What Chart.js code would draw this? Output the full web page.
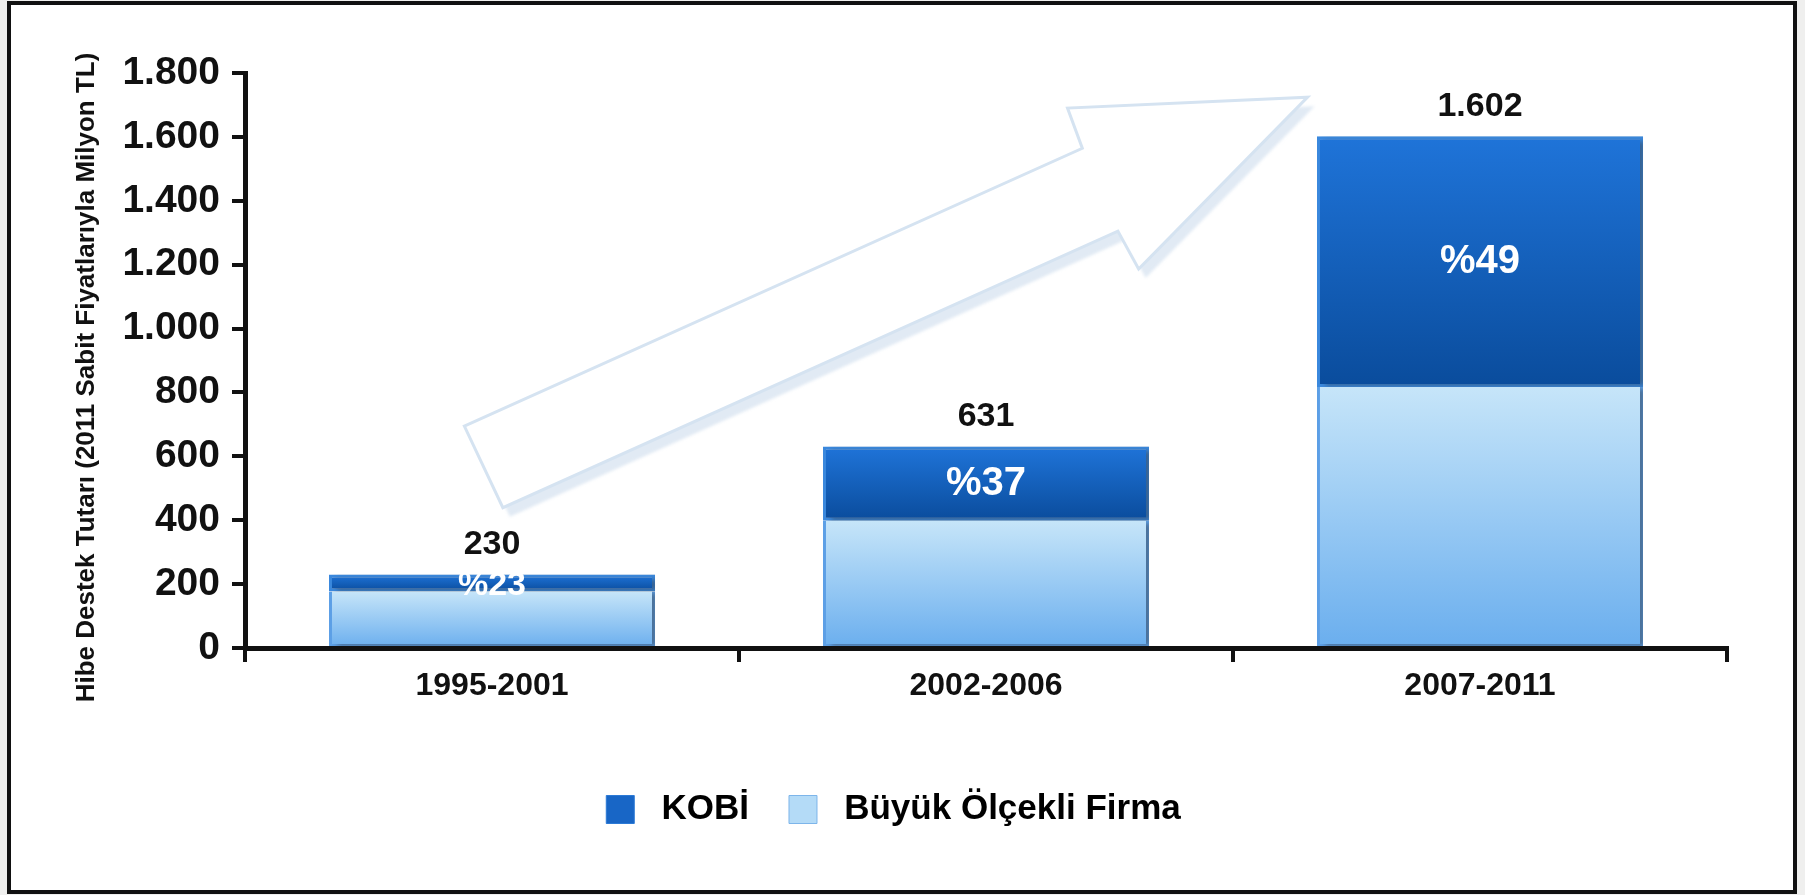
<!DOCTYPE html>
<html>
<head>
<meta charset="utf-8">
<script src="https://cdn.jsdelivr.net/npm/chart.js@4"></script>
<style>
html,body{margin:0;padding:0;background:#efefee;width:1805px;height:895px;overflow:hidden}
#frame{position:absolute;left:7px;top:1px;width:1782px;height:885px;border:4px solid #111;background:#fff}
#wrap{position:absolute;left:0;top:0;width:1805px;height:895px}
</style>
</head>
<body>
<div id="frame"></div>
<div id="wrap"><canvas id="c"></canvas></div>
<script>
// ---- data ----
const categories = ['1995-2001', '2002-2006', '2007-2011'];
const largeFirmValues = [177, 398, 817];   // Büyük Ölçekli Firma
const smeValues = [53, 233, 785];          // KOBİ
const totalLabels = ['230', '631', '1.602'];
const smeShareLabels = ['%23', '%37', '%49'];
const yTickLabels = ['0', '200', '400', '600', '800', '1.000', '1.200', '1.400', '1.600', '1.800'];
const seriesNames = ['Büyük Ölçekli Firma', 'KOBİ'];
const yAxisTitle = 'Hibe Destek Tutarı (2011 Sabit Fiyatlarıyla Milyon TL)';

const FONT = '"Liberation Sans", Arial, sans-serif';

function gradientFill(topColor, bottomColor, dsIndex) {
  return function (ctx) {
    const chart = ctx.chart;
    if (!chart.chartArea || ctx.type !== 'data') return bottomColor;
    const i = ctx.dataIndex;
    const y = chart.scales.y;
    const base = dsIndex === 0 ? 0 : largeFirmValues[i];
    const val = base + (dsIndex === 0 ? largeFirmValues[i] : smeValues[i]);
    const top = y.getPixelForValue(val), bot = y.getPixelForValue(base);
    const g = chart.ctx.createLinearGradient(0, top, 0, bot);
    g.addColorStop(0, topColor);
    g.addColorStop(1, bottomColor);
    return g;
  };
}

// decorative arrow (fractions of the chart area)
const arrowShape = [
  [0.148, 0.614], [0.565, 0.131], [0.555, 0.061], [0.717, 0.042],
  [0.603, 0.341], [0.589, 0.275], [0.174, 0.756]
];

const decorPlugin = {
  id: 'decor',
  beforeDatasetsDraw(chart) {
    const { ctx, chartArea: a } = chart;
    const w = a.right - a.left, h = a.bottom - a.top;
    const pts = arrowShape.map(p => [a.left + p[0] * w, a.top + p[1] * h]);
    const path = (dx, dy) => {
      ctx.beginPath();
      pts.forEach((p, k) => k ? ctx.lineTo(p[0] + dx, p[1] + dy) : ctx.moveTo(p[0] + dx, p[1] + dy));
      ctx.closePath();
    };
    ctx.save();
    ctx.filter = 'blur(1.5px)';
    path(7, 9);
    ctx.fillStyle = '#e1eaf4';
    ctx.fill();
    ctx.filter = 'none';
    path(0, 0);
    ctx.fillStyle = '#ffffff';
    ctx.fill();
    ctx.lineWidth = 3;
    ctx.strokeStyle = '#d5e3f1';
    ctx.stroke();
    ctx.restore();
    // bar shadow
    ctx.save();
    ctx.shadowColor = 'rgba(50,50,50,0.45)';
    ctx.shadowBlur = 5;
    ctx.shadowOffsetX = 5;
    ctx.shadowOffsetY = 2;
  },
  afterDatasetsDraw(chart) {
    const ctx = chart.ctx;
    ctx.restore();
    const metaK = chart.getDatasetMeta(1);
    ctx.save();
    ctx.textAlign = 'center';
    ctx.textBaseline = 'middle';
    metaK.data.forEach((bar, i) => {
      const { x, y, base } = bar.getProps(['x', 'y', 'base'], true);
      ctx.fillStyle = '#111';
      ctx.font = 'bold 34px ' + FONT;
      ctx.fillText(totalLabels[i], x, y - 30);
      const hgt = base - y;
      const fs = hgt < 40 ? 34 : 40;
      ctx.fillStyle = '#ffffff';
      ctx.font = 'bold ' + fs + 'px ' + FONT;
      ctx.fillText(smeShareLabels[i], x, (y + base) / 2 + (hgt < 40 ? 3 : 0));
    });
    ctx.restore();
  },
  afterDraw(chart) {
    const { ctx, chartArea: a } = chart;
    ctx.save();
    ctx.translate(a.left - 158, (a.top + a.bottom) / 2 + 17);
    ctx.rotate(-Math.PI / 2);
    ctx.textAlign = 'center';
    ctx.textBaseline = 'middle';
    ctx.fillStyle = '#111';
    ctx.font = 'bold 26px ' + FONT;
    ctx.fillText(yAxisTitle, 0, 0);
    ctx.restore();
  }
};

new Chart(document.getElementById('c'), {
  type: 'bar',
  data: {
    labels: categories,
    datasets: [
      {
        label: seriesNames[0],
        data: largeFirmValues,
        backgroundColor: gradientFill('#c6e5f9', '#6aaeee', 0),
        borderColor: '#5c9fe6',
        borderWidth: { left: 3, right: 3, top: 0, bottom: 2 },
        borderSkipped: false,
        barPercentage: 0.66,
        categoryPercentage: 1.0
      },
      {
        label: seriesNames[1],
        data: smeValues,
        backgroundColor: gradientFill('#1f74d9', '#0a4c9c', 1),
        borderColor: '#3a88dd',
        borderWidth: 3,
        borderSkipped: false,
        barPercentage: 0.66,
        categoryPercentage: 1.0
      }
    ]
  },
  options: {
    responsive: true,
    maintainAspectRatio: false,
    animation: false,
    layout: { padding: { left: 60, right: 78, top: 73, bottom: 58 } },
    plugins: {
      tooltip: { enabled: false },
      legend: {
        position: 'bottom',
        labels: {
          font: { family: FONT, size: 35, weight: 'bold' },
          color: '#111',
          boxWidth: 28,
          boxHeight: 28,
          padding: 40,
          generateLabels() {
            return [
              { text: ' ' + seriesNames[1], fillStyle: '#1866c6', strokeStyle: '#2c7ad6', lineWidth: 1, datasetIndex: 1 },
              { text: ' ' + seriesNames[0], fillStyle: '#b4dbf7', strokeStyle: '#7db5ea', lineWidth: 1, datasetIndex: 0 }
            ];
          }
        }
      }
    },
    scales: {
      x: {
        stacked: true,
        z: 1,
        afterFit(s) { s.height = 104; },
        grid: { offset: true, drawOnChartArea: false, drawTicks: true, tickLength: 14, color: '#111', lineWidth: 4 },
        border: { display: true, color: '#111', width: 5 },
        ticks: { font: { family: FONT, size: 32, weight: 'bold' }, color: '#111', padding: 5 }
      },
      y: {
        stacked: true,
        z: 1,
        min: 0,
        max: 1800,
        afterFit(s) { s.width = 185; },
        grid: { drawOnChartArea: false, drawTicks: true, tickLength: 13, color: '#111', lineWidth: 4 },
        border: { display: true, color: '#111', width: 5 },
        ticks: {
          stepSize: 200,
          padding: 12,
          font: { family: FONT, size: 39, weight: 'bold' },
          color: '#111',
          callback: (v, i) => yTickLabels[i]
        },
        title: { display: false }
      }
    }
  },
  plugins: [decorPlugin]
});
</script>
</body>
</html>
